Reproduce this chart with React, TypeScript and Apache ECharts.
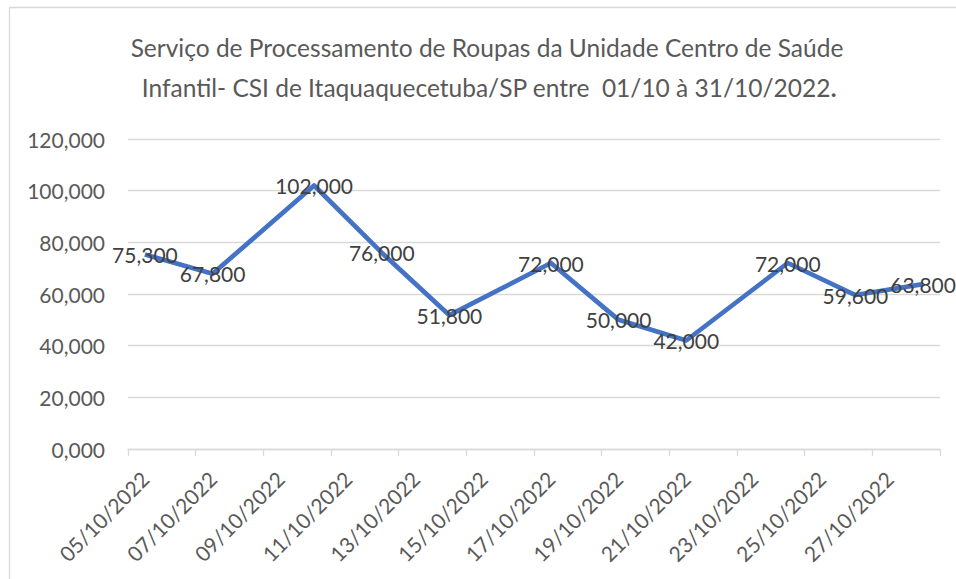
import React, { useEffect, useRef } from "react";
import * as echarts from "echarts";

const dayCategories = [
  "05/10/2022", "06/10/2022", "07/10/2022", "08/10/2022", "09/10/2022", "10/10/2022",
  "11/10/2022", "12/10/2022", "13/10/2022", "14/10/2022", "15/10/2022", "16/10/2022",
  "17/10/2022", "18/10/2022", "19/10/2022", "20/10/2022", "21/10/2022", "22/10/2022",
  "23/10/2022", "24/10/2022", "25/10/2022", "26/10/2022", "27/10/2022", "28/10/2022",
];

const pointDates = [
  "05/10/2022", "07/10/2022", "10/10/2022", "12/10/2022", "14/10/2022", "17/10/2022",
  "19/10/2022", "21/10/2022", "24/10/2022", "26/10/2022", "28/10/2022",
];

const pointValues = [75.3, 67.8, 102, 76, 51.8, 72, 50, 42, 72, 59.6, 63.8];

const titleLine1 = "Serviço de Processamento de Roupas da Unidade Centro de Saúde";
const titleLine2 = "Infantil- CSI de Itaquaquecetuba/SP entre  01/10 à 31/10/2022";

const FONT = "Lato";
const fmt = (v: number) => v.toFixed(3).replace(".", ",");

export default function App() {
  const ref = useRef<HTMLDivElement>(null);

  useEffect(() => {
    document.body.style.margin = "0";
    if (!ref.current) return;
    const chart = echarts.init(ref.current, null, { renderer: "svg" });

    const seriesData = dayCategories.map((d) => {
      const i = pointDates.indexOf(d);
      return i >= 0 ? pointValues[i] : null;
    });

    chart.setOption({
      animation: false,
      backgroundColor: "#ffffff",
      textStyle: { fontFamily: FONT },
      graphic: [
        {
          type: "rect",
          shape: { x: 9.5, y: 7.5, width: 2000, height: 2000 },
          style: { fill: "none", stroke: "#d9d9d9", lineWidth: 1.3 },
          silent: true,
        },
        {
          type: "text",
          x: 487,
          y: 47,
          style: {
            text: titleLine1,
            align: "center",
            verticalAlign: "middle",
            fill: "#595959",
            fontFamily: FONT,
            fontSize: 24.5,
          },
        },
        {
          type: "text",
          x: 489,
          y: 87,
          style: {
            text: titleLine2 + "{b|.}",
            align: "center",
            verticalAlign: "middle",
            fill: "#595959",
            fontFamily: FONT,
            fontSize: 24.5,
            rich: {
              b: { fontFamily: FONT, fontSize: 24.5, fontWeight: "bold", fill: "#595959" },
            },
          },
        },
      ],
      grid: { left: 128, right: 16, top: 139, bottom: 130, containLabel: false },
      xAxis: {
        type: "category",
        data: dayCategories,
        boundaryGap: true,
        axisLine: { lineStyle: { color: "#d9d9d9", width: 1.3 } },
        axisTick: { show: true, interval: 1, length: 7, lineStyle: { color: "#d9d9d9", width: 1.3 } },
        axisLabel: {
          interval: 1,
          rotate: 45,
          margin: 26,
          color: "#595959",
          fontFamily: FONT,
          fontSize: 21,
        },
        splitLine: { show: false },
      },
      yAxis: {
        type: "value",
        min: 0,
        max: 120,
        interval: 20,
        axisLine: { show: false },
        axisTick: { show: false },
        axisLabel: {
          margin: 23,
          color: "#595959",
          fontFamily: FONT,
          fontSize: 21,
          formatter: (v: number) => fmt(v),
        },
        splitLine: { lineStyle: { color: "#d9d9d9", width: 1.3 } },
      },
      series: [
        {
          type: "line",
          data: seriesData,
          connectNulls: true,
          symbol: "circle",
          symbolSize: 0,
          showSymbol: true,
          lineStyle: { color: "#4472C4", width: 4.7, join: "round" },
          itemStyle: { color: "#4472C4" },
          label: {
            show: true,
            position: "inside",
            color: "#404040",
            fontFamily: FONT,
            fontSize: 21,
            formatter: (p: any) => fmt(p.value),
          },
        },
      ],
    });

    return () => chart.dispose();
  }, []);

  return <div ref={ref} style={{ width: 956, height: 579 }} />;
}
